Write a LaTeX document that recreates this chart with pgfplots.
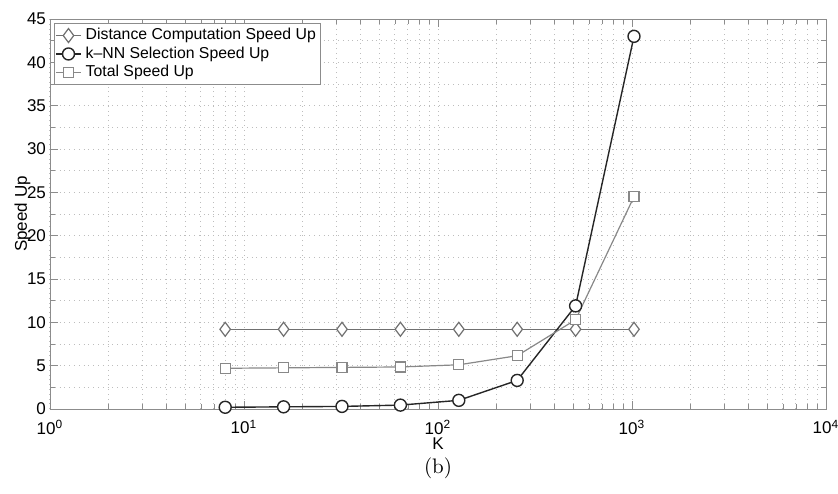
\documentclass[border=0pt]{standalone}
\usepackage{fontspec}
\usepackage{pgfplots}
\pgfplotsset{compat=1.18}
\newfontfamily\hv{Liberation Sans}
\definecolor{axgray}{HTML}{8C8C8C}
\definecolor{gridgray}{HTML}{BDBDBD}
\definecolor{dcol}{HTML}{707070}
\definecolor{kcol}{HTML}{262626}
\definecolor{tcol}{HTML}{888888}
\begin{document}
\begin{tikzpicture}
\path[use as bounding box] (-25pt,-42pt) rectangle (394pt,204.5pt);
\begin{semilogxaxis}[
  scale only axis,
  width=388pt, height=195pt,
  xmin=1, xmax=10000, ymin=0, ymax=45,
  xtick={1,10,100,1000,10000},
  xticklabels={10\textsuperscript{0},10\textsuperscript{1},10\textsuperscript{2},10\textsuperscript{3},10\textsuperscript{4}},
  ytick={0,5,...,45},
  minor ytick={2.5,7.5,...,42.5},
  /pgf/number format/assume math mode=true,
  ticklabel style={font=\hv\fontsize{8.5}{10}\selectfont},
  xticklabel style={yshift=-2pt},
  yticklabel style={xshift=1.5pt},
  label style={font=\hv\fontsize{8.5}{10}\selectfont},
  xlabel={K}, ylabel={Speed Up},
  xlabel style={yshift=5pt},
  ylabel style={yshift=-8.5pt},
  tick align=inside,
  axis line style={axgray},
  every tick/.style={axgray},
  major tick length=4pt, minor tick length=2.5pt,
  xmajorgrids, xminorgrids, ymajorgrids, yminorgrids,
  major grid style={gridgray, dotted, line width=0.5pt},
  minor grid style={gridgray, dotted, line width=0.5pt},
  legend cell align=left,
  legend style={font=\hv\fontsize{7.9}{9}\selectfont, draw=axgray, inner sep=0.5pt, row sep=-2pt,
    at={(0.005,0.99)}, anchor=north west},
  legend image code/.code={\draw[mark repeat=2,mark phase=2] plot coordinates {(0cm,0cm) (0.22cm,0cm) (0.44cm,0cm)};},
]
\addplot[dcol, line width=0.6pt, mark=diamond*, mark size=3.5pt, mark options={fill=white, draw=dcol}]
  coordinates {(8,9.2) (16,9.2) (32,9.2) (64,9.2) (128,9.2) (256,9.2) (512,9.2) (1024,9.2)};
\addlegendentry{Distance Computation Speed Up}
\addplot[kcol, line width=0.7pt, mark=*, mark size=3pt, mark options={fill=white, draw=kcol}]
  coordinates {(8,0.2) (16,0.25) (32,0.3) (64,0.45) (128,1.0) (256,3.3) (512,11.9) (1024,43.0)};
\addlegendentry{k\textendash NN Selection Speed Up}
\addplot[tcol, line width=0.6pt, mark=square*, mark size=2.5pt, mark options={fill=white, draw=tcol}]
  coordinates {(8,4.7) (16,4.75) (32,4.8) (64,4.85) (128,5.1) (256,6.15) (512,10.3) (1024,24.5)};
\addlegendentry{Total Speed Up}
\end{semilogxaxis}
\node at (194pt,-29.5pt) {\fontsize{10.5}{12}\selectfont (b)};
\end{tikzpicture}
\end{document}
